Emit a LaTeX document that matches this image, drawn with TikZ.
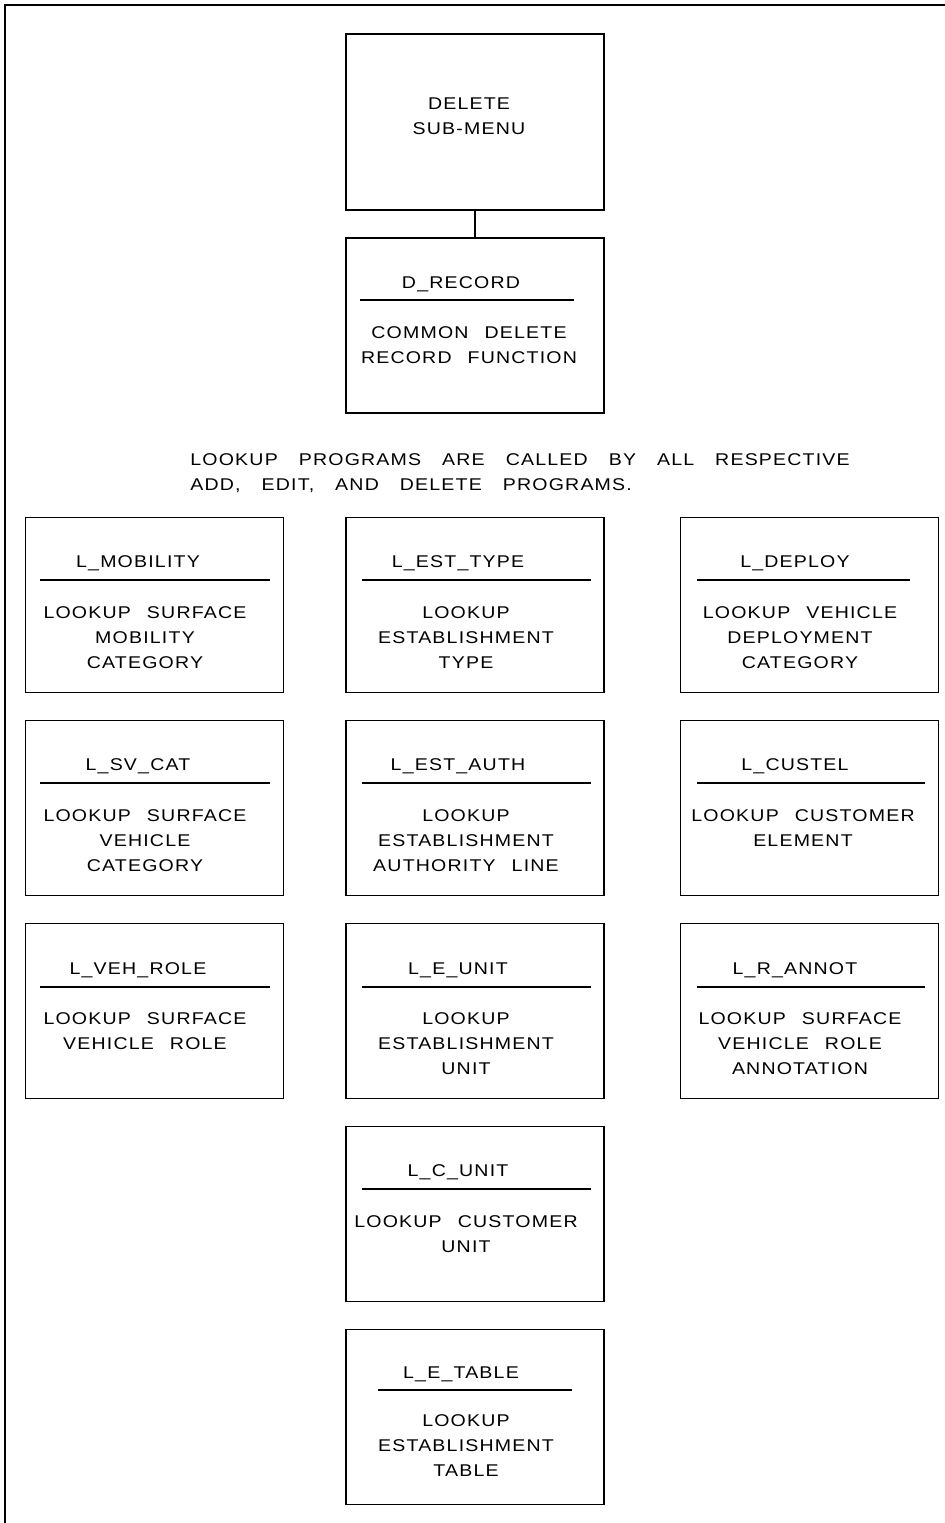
\documentclass[tikz,border=0pt]{standalone}
\usepackage{fontspec}
\usepackage{tikz}
\newfontfamily\plotfont{Liberation Sans}[FakeStretch=1.15, LetterSpace=7]
\newcommand{\gap}{\hspace{8pt}}
\newcommand{\wgap}{\hspace{10.5pt}}

\tikzset{
  frame/.style = {line width = 1pt},
  box/.style = {draw, rectangle, line width = 0.8pt, minimum width = 129pt, minimum height = 87.5pt, inner sep = 0pt},
  title/.style = {anchor = base, inner sep = 0pt, font = \plotfont\fontsize{8.5}{12.5}\selectfont},
  body/.style = {anchor = north, inner sep = 0pt, align = center, font = \plotfont\fontsize{8.5}{12.5}\selectfont},
  rule/.style = {line width = 0.8pt}
}

\begin{document}
\begin{tikzpicture}[x = 0.5pt, y = -0.5pt]
        \useasboundingbox (0, 0) rectangle (945, 1523);
        % Frame
        \draw [frame] (945, 5) -- (5, 5) -- (5, 1523);
        % Menu and common function
        \node [box, minimum height = 88pt] (submenu) at (475, 122) {};
        \node [body] (submenut) at (469, 97) {DELETE \\ SUB-MENU};
        \node [box] (drecord) at (475, 325.5) {};
        \node [title] (drecordt) at (461, 288) {D\_RECORD};
        \draw [rule] (360, 300) -- (574, 300);
        \node [body] (drecordb) at (469, 326) {COMMON\gap DELETE \\ RECORD\gap FUNCTION};
        \draw [line width = 0.8pt] (submenu) -- (drecord);
        % Note
        \node [body, anchor = west, align = left] (note) at (190, 473) {LOOKUP\wgap PROGRAMS\wgap ARE\wgap CALLED\wgap BY\wgap ALL\wgap RESPECTIVE \\ ADD,\wgap EDIT,\wgap AND\wgap DELETE\wgap PROGRAMS.};
        % Row 1
        \node [box] (mobility) at (154.5, 605) {};
        \node [title] at (138, 567) {L\_MOBILITY};
        \draw [rule] (40, 580) -- (270, 580);
        \node [body] at (145, 606) {LOOKUP\gap SURFACE \\ MOBILITY \\ CATEGORY};
        \node [box] (esttype) at (475, 605) {};
        \node [title] at (458, 567) {L\_EST\_TYPE};
        \draw [rule] (362, 580) -- (591, 580);
        \node [body] at (466, 606) {LOOKUP \\ ESTABLISHMENT \\ TYPE};
        \node [box] (deploy) at (809.5, 605) {};
        \node [title] at (795, 567) {L\_DEPLOY};
        \draw [rule] (697, 580) -- (910, 580);
        \node [body] at (800, 606) {LOOKUP\gap VEHICLE \\ DEPLOYMENT \\ CATEGORY};
        % Row 2
        \node [box] (svcat) at (154.5, 808) {};
        \node [title] at (138, 770) {L\_SV\_CAT};
        \draw [rule] (40, 783) -- (270, 783);
        \node [body] at (145, 809) {LOOKUP\gap SURFACE \\ VEHICLE \\ CATEGORY};
        \node [box] (estauth) at (475, 808) {};
        \node [title] at (458, 770) {L\_EST\_AUTH};
        \draw [rule] (362, 783) -- (591, 783);
        \node [body] at (466, 809) {LOOKUP \\ ESTABLISHMENT \\ AUTHORITY\gap LINE};
        \node [box] (custel) at (809.5, 808) {};
        \node [title] at (795, 770) {L\_CUSTEL};
        \draw [rule] (697, 783) -- (925, 783);
        \node [body] at (803, 809) {LOOKUP\gap CUSTOMER \\ ELEMENT};
        % Row 3
        \node [box] (vehrole) at (154.5, 1011) {};
        \node [title] at (138, 974) {L\_VEH\_ROLE};
        \draw [rule] (40, 987) -- (270, 987);
        \node [body] at (145, 1012) {LOOKUP\gap SURFACE \\ VEHICLE\gap ROLE};
        \node [box] (eunit) at (475, 1011) {};
        \node [title] at (458, 974) {L\_E\_UNIT};
        \draw [rule] (362, 987) -- (591, 987);
        \node [body] at (466, 1012) {LOOKUP \\ ESTABLISHMENT \\ UNIT};
        \node [box] (rannot) at (809.5, 1011) {};
        \node [title] at (795, 974) {L\_R\_ANNOT};
        \draw [rule] (697, 987) -- (925, 987);
        \node [body] at (800, 1012) {LOOKUP\gap SURFACE \\ VEHICLE\gap ROLE \\ ANNOTATION};
        % Lower column
        \node [box] (cunit) at (475, 1214) {};
        \node [title] at (458, 1176) {L\_C\_UNIT};
        \draw [rule] (362, 1189) -- (591, 1189);
        \node [body] at (466, 1215) {LOOKUP\gap CUSTOMER \\ UNIT};
        \node [box] (etable) at (475, 1417) {};
        \node [title] at (461, 1378) {L\_E\_TABLE};
        \draw [rule] (378, 1390) -- (572, 1390);
        \node [body] at (466, 1414) {LOOKUP \\ ESTABLISHMENT \\ TABLE};
\end{tikzpicture}
\end{document}
